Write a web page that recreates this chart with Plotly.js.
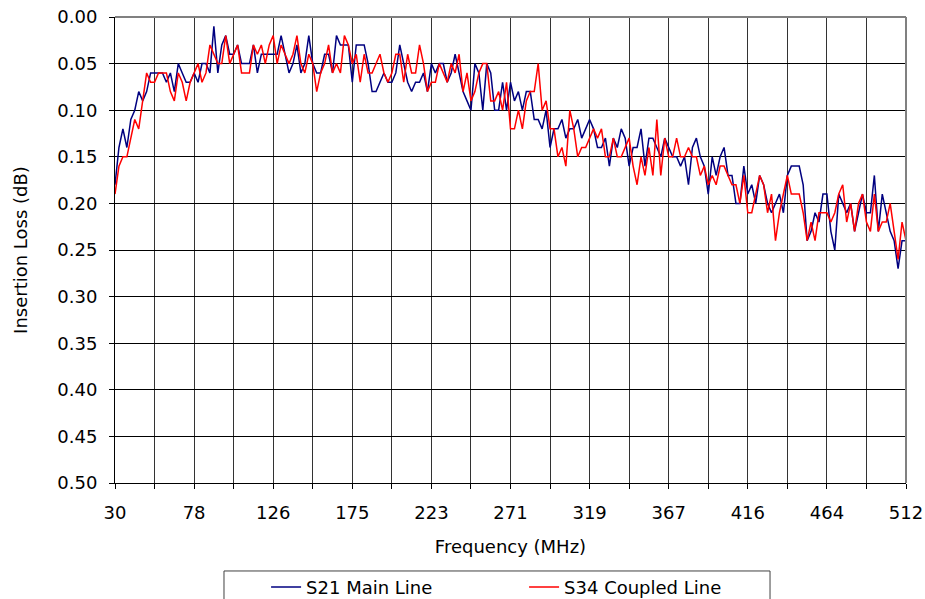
<!DOCTYPE html>
<html>
<head>
<meta charset="utf-8">
<script src="https://cdn.plot.ly/plotly-3.0.1.min.js"></script>
<style>html,body{margin:0;padding:0;background:#fff;}#chart{width:925px;height:599px;}</style>
</head>
<body>
<div id="chart"></div>
<script>
// Sweep: 201 points from 30 MHz to 512 MHz (instrument frequency grid)
const startMHz = 30;
const stopMHz = 512;
const nPoints = 201;
const freqMHz = Array.from({length: nPoints}, (_, i) => startMHz + i * (stopMHz - startMHz) / (nPoints - 1));

const s21MainLine = [
0.18,0.14,0.12,0.14,0.11,0.10,0.08,0.09,0.08,0.06,
0.06,0.06,0.06,0.07,0.06,0.08,0.05,0.06,0.07,0.07,
0.06,0.07,0.05,0.05,0.06,0.01,0.06,0.03,0.02,0.04,
0.04,0.03,0.05,0.05,0.05,0.03,0.06,0.04,0.04,0.04,
0.04,0.04,0.02,0.04,0.06,0.05,0.03,0.06,0.05,0.02,
0.05,0.06,0.06,0.04,0.04,0.06,0.02,0.03,0.03,0.03,
0.07,0.03,0.03,0.03,0.05,0.08,0.08,0.07,0.06,0.07,
0.07,0.06,0.03,0.05,0.07,0.08,0.07,0.07,0.06,0.08,
0.05,0.06,0.05,0.05,0.07,0.06,0.04,0.06,0.08,0.09,
0.10,0.05,0.06,0.10,0.05,0.06,0.10,0.10,0.07,0.10,
0.07,0.09,0.08,0.10,0.08,0.08,0.11,0.11,0.12,0.10,
0.14,0.12,0.12,0.11,0.13,0.12,0.12,0.11,0.13,0.12,
0.11,0.12,0.14,0.14,0.13,0.16,0.13,0.14,0.12,0.13,
0.16,0.14,0.14,0.12,0.16,0.13,0.13,0.14,0.15,0.13,
0.14,0.15,0.15,0.16,0.15,0.18,0.14,0.13,0.15,0.16,
0.19,0.15,0.17,0.15,0.14,0.17,0.17,0.20,0.20,0.16,
0.19,0.18,0.20,0.17,0.18,0.20,0.21,0.20,0.19,0.21,
0.17,0.16,0.16,0.16,0.18,0.24,0.23,0.21,0.22,0.19,
0.19,0.23,0.25,0.19,0.20,0.21,0.20,0.23,0.21,0.19,
0.21,0.21,0.17,0.23,0.19,0.21,0.23,0.24,0.27,0.24,
0.24
];

const s34CoupledLine = [
0.19,0.16,0.15,0.15,0.13,0.11,0.12,0.09,0.06,0.07,
0.07,0.06,0.06,0.06,0.08,0.09,0.06,0.07,0.09,0.07,
0.06,0.05,0.07,0.06,0.03,0.04,0.05,0.05,0.02,0.05,
0.04,0.03,0.06,0.06,0.06,0.03,0.04,0.03,0.05,0.03,
0.02,0.05,0.03,0.04,0.05,0.04,0.02,0.05,0.06,0.04,
0.05,0.08,0.06,0.05,0.03,0.06,0.05,0.06,0.02,0.03,
0.05,0.04,0.07,0.04,0.06,0.06,0.05,0.04,0.06,0.07,
0.06,0.04,0.04,0.07,0.04,0.06,0.06,0.03,0.05,0.08,
0.07,0.07,0.05,0.06,0.07,0.05,0.06,0.04,0.08,0.06,
0.09,0.08,0.06,0.05,0.05,0.09,0.09,0.08,0.10,0.07,
0.12,0.12,0.10,0.12,0.09,0.08,0.08,0.05,0.10,0.09,
0.12,0.12,0.15,0.14,0.16,0.10,0.12,0.15,0.14,0.14,
0.13,0.12,0.13,0.12,0.15,0.15,0.13,0.15,0.15,0.14,
0.13,0.16,0.18,0.15,0.17,0.14,0.17,0.11,0.17,0.13,
0.15,0.15,0.13,0.15,0.15,0.14,0.15,0.15,0.17,0.16,
0.18,0.17,0.18,0.16,0.16,0.17,0.18,0.18,0.20,0.17,
0.21,0.21,0.19,0.17,0.18,0.21,0.19,0.24,0.21,0.19,
0.17,0.19,0.19,0.19,0.21,0.24,0.22,0.24,0.21,0.21,
0.21,0.22,0.21,0.19,0.18,0.22,0.20,0.23,0.20,0.19,
0.22,0.23,0.19,0.23,0.22,0.22,0.20,0.23,0.26,0.22,
0.24
];

const xTickLabels = ['30','78','126','175','223','271','319','367','416','464','512'];
const xTickValues = xTickLabels.map((t, k) => startMHz + k * (stopMHz - startMHz) / (xTickLabels.length - 1));
const xGridStep = (stopMHz - startMHz) / 20;

const FONT = 'DejaVu Sans, Verdana, sans-serif';

const traces = [
  {x: freqMHz, y: s21MainLine, type: 'scatter', mode: 'lines', name: 'S21 Main Line',
   line: {color: '#000080', width: 1.5}},
  {x: freqMHz, y: s34CoupledLine, type: 'scatter', mode: 'lines', name: 'S34 Coupled Line',
   line: {color: '#ff0000', width: 1.5}}
];

const layout = {
  width: 925, height: 599,
  margin: {l: 115, r: 19, t: 17, b: 116, pad: 0, autoexpand: false},
  paper_bgcolor: '#ffffff', plot_bgcolor: '#ffffff',
  font: {family: FONT, size: 18, color: '#000'},
  showlegend: true,
  legend: {orientation: 'h', x: 0.191, xanchor: 'left', y: -0.184, yanchor: 'top',
           bgcolor: 'rgba(0,0,0,0)', borderwidth: 0,
           entrywidth: 213, entrywidthmode: 'pixels', font: {family: FONT, size: 18, color: '#000'}},
  xaxis: {
    range: [startMHz, stopMHz], fixedrange: true, automargin: false,
    tickmode: 'array', tickvals: xTickValues, ticktext: xTickLabels,
    ticks: 'outside', ticklen: 5, tickcolor: '#000', ticklabelstandoff: 8,
    showgrid: true, gridcolor: '#333', gridwidth: 1,
    minor: {tick0: startMHz, dtick: xGridStep, showgrid: true, gridcolor: '#333', gridwidth: 1,
            ticks: 'outside', ticklen: 5, tickcolor: '#000'},
    showline: true, linecolor: '#000', linewidth: 1, zeroline: false,
    tickfont: {family: FONT, size: 18, color: '#000'},
    title: {text: 'Frequency (MHz)', font: {family: FONT, size: 18, color: '#000'}, standoff: 18}
  },
  yaxis: {
    range: [0.5, 0], fixedrange: true, automargin: false,
    tickmode: 'linear', tick0: 0, dtick: 0.05, tickformat: '.2f',
    ticks: 'outside', ticklen: 5, tickcolor: '#000', ticklabelstandoff: 8,
    showgrid: true, gridcolor: '#000', gridwidth: 1,
    showline: true, linecolor: '#000', linewidth: 1, zeroline: false,
    tickfont: {family: FONT, size: 18, color: '#000'},
    title: {text: 'Insertion Loss (dB)', font: {family: FONT, size: 18, color: '#000'}, standoff: 25}
  },
  shapes: [
    {type: 'line', xref: 'paper', yref: 'paper', x0: 0, x1: 1, y0: 1, y1: 1, line: {color: '#808080', width: 2}},
    {type: 'line', xref: 'paper', yref: 'paper', x0: 1, x1: 1, y0: 0, y1: 1, line: {color: '#808080', width: 2}},
    {type: 'rect', xref: 'paper', yref: 'paper', x0: 0.1378, x1: 0.8281, y0: -0.283, y1: -0.1888,
     line: {color: '#404040', width: 1}, fillcolor: 'rgba(0,0,0,0)'}
  ]
};

Plotly.newPlot('chart', traces, layout, {staticPlot: true, displayModeBar: false});
</script>
</body>
</html>
